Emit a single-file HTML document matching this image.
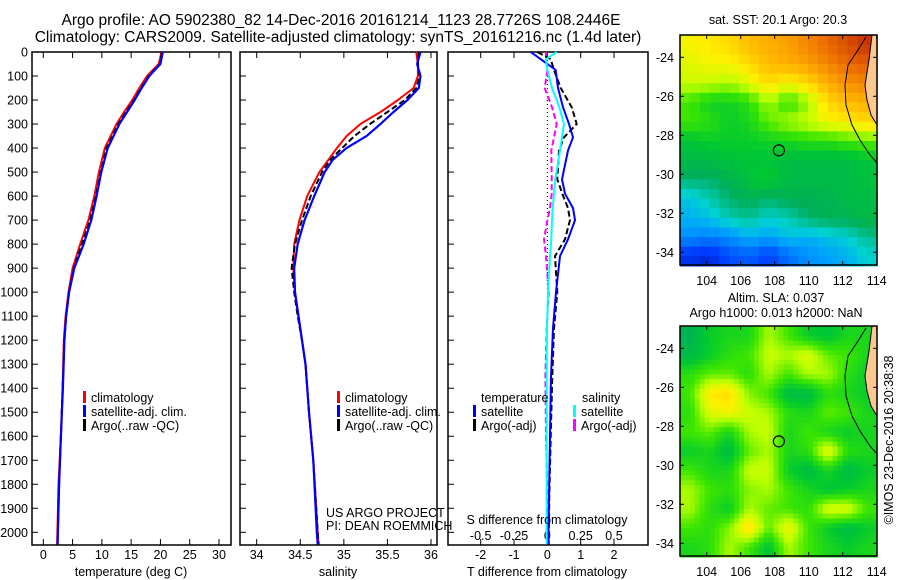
<!DOCTYPE html>
<html><head><meta charset="utf-8"><style>
body{margin:0;background:#fff}
svg{display:block;font-family:"Liberation Sans",sans-serif;font-size:12.5px}
</style></head><body>
<svg id="c" width="900" height="580" viewBox="0 0 900 580" xmlns="http://www.w3.org/2000/svg">
<rect width="900" height="580" fill="#fff"/>
<text x="341" y="25" text-anchor="middle" style="font-size:15.5px">Argo profile: AO 5902380_82 14-Dec-2016 20161214_1123 28.7726S 108.2446E</text>
<text x="338" y="42" text-anchor="middle" style="font-size:15.5px">Climatology: CARS2009. Satellite-adjusted climatology: synTS_20161216.nc (1.4d later)</text>
<g id="g"></g>
</svg>
<script>
// ---- data ----
const depthT=[0,50,100,150,200,250,300,400,500,600,700,800,900,1000,1100,1200,1400,1600,1800,2000,2050];
const tClim=[20.2,19.7,17.7,16.4,15.2,13.8,12.5,10.5,9.5,8.7,7.7,6.3,5.0,4.3,3.8,3.5,3.3,3.0,2.6,2.4,2.35];
const tSat=[20.4,20.0,18.1,16.8,15.6,14.3,13.0,11.0,9.9,9.1,8.2,6.9,5.3,4.4,3.9,3.6,3.35,3.0,2.7,2.5,2.45];
const tArgo=[20.3,19.9,18.0,16.7,15.5,14.1,12.8,10.8,9.8,9.0,8.0,6.6,5.2,4.4,3.9,3.6,3.3,3.0,2.7,2.5,2.45];
const depthS=[0,50,100,150,200,250,300,350,400,450,500,600,700,800,900,1000,1100,1200,1300,1500,1700,2000,2050];
const sClim=[35.83,35.85,35.85,35.80,35.62,35.42,35.19,35.03,34.92,34.82,34.72,34.58,34.49,34.43,34.42,34.44,34.48,34.52,34.56,34.60,34.65,34.70,34.71];
const sSat=[35.88,35.84,35.88,35.86,35.73,35.57,35.42,35.26,35.03,34.87,34.78,34.66,34.55,34.47,34.43,34.44,34.48,34.52,34.56,34.60,34.65,34.69,34.70];
const sArgo=[35.86,35.85,35.87,35.83,35.70,35.50,35.30,35.12,34.98,34.84,34.75,34.62,34.52,34.44,34.40,34.43,34.47,34.52,34.56,34.60,34.65,34.70,34.71];
const depthD=[0,30,75,150,230,300,355,410,530,590,650,700,780,850,1000,1150,1350,1600,1850,2050];
const tdSat=[-0.5,-0.2,0.25,0.32,0.47,0.65,0.77,0.62,0.44,0.53,0.77,0.83,0.62,0.38,0.26,0.17,0.11,0.08,0.05,0.03];
const tdArgo=[-0.3,0.1,0.2,0.4,0.73,0.88,0.5,0.35,0.3,0.45,0.62,0.68,0.53,0.23,0.3,0.2,0.15,0.1,0.06,0.04];
const sdSat=[0.07,-0.01,0.0,0.035,0.09,0.125,0.11,0.095,0.06,0.05,0.04,0.035,0.03,0.02,0.005,-0.003,-0.005,-0.005,-0.006,-0.006];
const sdArgo=[-0.01,-0.01,0.0,-0.02,0.035,0.07,0.05,0.03,0.033,0.033,0.02,0.0,-0.025,-0.01,0.01,-0.005,-0.015,-0.01,0.0,0.0];
const depthTicks=[0,100,200,300,400,500,600,700,800,900,1000,1100,1200,1300,1400,1500,1600,1700,1800,1900,2000];
const tTicks=[0,5,10,15,20,25,30];
const sTicks=[34,34.5,35,35.5,36];
const tdTicks=[-2,-1,0,1,2];
const sdTicks=[-0.5,-0.25,0,0.25,0.5];
const sdTickLabels=["-0.5","-0.25","0","0.25","0.5"];
const latTicks=[-24,-26,-28,-30,-32,-34];
const lonTicks=[104,106,108,110,112,114];
const argoLon=108.2446, argoLat=-28.7726;
const sstGrid=[
[0.62,0.64,0.66,0.70,0.72,0.74,0.78,0.82,0.86,0.90],
[0.60,0.62,0.62,0.66,0.70,0.72,0.74,0.78,0.82,0.84],
[0.58,0.58,0.56,0.60,0.66,0.62,0.66,0.72,0.76,0.78],
[0.50,0.45,0.45,0.48,0.56,0.48,0.55,0.66,0.70,0.72],
[0.50,0.48,0.44,0.46,0.52,0.56,0.58,0.62,0.64,0.66],
[0.42,0.44,0.44,0.44,0.45,0.46,0.48,0.48,0.50,0.52],
[0.40,0.40,0.42,0.42,0.42,0.40,0.40,0.40,0.40,0.42],
[0.36,0.36,0.38,0.42,0.44,0.40,0.40,0.40,0.40,0.42],
[0.28,0.32,0.36,0.38,0.36,0.38,0.38,0.38,0.40,0.40],
[0.26,0.28,0.32,0.34,0.30,0.32,0.36,0.38,0.38,0.40],
[0.22,0.20,0.22,0.26,0.24,0.28,0.26,0.28,0.30,0.34],
[0.10,0.08,0.14,0.16,0.12,0.18,0.22,0.24,0.26,0.30]];
const slaGrid=[
[0.38,0.44,0.46,0.46,0.56,0.50,0.44,0.42,0.46,0.46],
[0.40,0.44,0.48,0.50,0.58,0.56,0.60,0.52,0.50,0.46],
[0.48,0.52,0.52,0.48,0.56,0.50,0.56,0.56,0.48,0.44],
[0.50,0.64,0.66,0.54,0.50,0.40,0.40,0.48,0.46,0.44],
[0.48,0.60,0.62,0.58,0.56,0.48,0.46,0.52,0.50,0.46],
[0.50,0.52,0.46,0.56,0.58,0.46,0.50,0.46,0.44,0.46],
[0.44,0.46,0.40,0.52,0.56,0.46,0.48,0.62,0.48,0.46],
[0.50,0.46,0.46,0.58,0.58,0.44,0.40,0.46,0.40,0.44],
[0.56,0.50,0.48,0.54,0.56,0.50,0.46,0.42,0.44,0.46],
[0.56,0.48,0.44,0.56,0.52,0.50,0.48,0.60,0.60,0.50],
[0.50,0.48,0.54,0.66,0.52,0.62,0.50,0.44,0.40,0.44],
[0.46,0.48,0.56,0.50,0.42,0.56,0.50,0.46,0.44,0.46]];

// ---- helpers ----
const NS="http://www.w3.org/2000/svg";
const G=document.getElementById('g');
function mk(tag,attrs,parent){const e=document.createElementNS(NS,tag);for(const k in attrs)e.setAttribute(k,attrs[k]);(parent||G).appendChild(e);return e;}
function txt(x,y,s,anchor,parent){const e=mk('text',{x:x,y:y,'text-anchor':anchor||'start'},parent);e.textContent=s;return e;}
const PT=52, PB=545;
const yD=d=>PT+d*(480.3/2000);
function lin(d0,d1,r0,r1){return v=>r0+(v-d0)*(r1-r0)/(d1-d0);}
const xT=lin(0,30,43.3,219);
const xS=lin(34,36,256.7,431);
const xTD=lin(-2,2,480.7,614);
const xSD=lin(-0.5,0.5,480.7,614);

function frame(x0,x1,name){
  const r=mk('rect',{x:x0,y:PT,width:x1-x0,height:PB-PT,fill:'none',stroke:'#000','stroke-width':1.5});
  
  
  depthTicks.forEach(d=>{mk('line',{x1:x0,x2:x0+6,y1:yD(d),y2:yD(d),stroke:'#000'});});
}
function xticks(vals,labels,sx,y,name){
  vals.forEach((v,i)=>{
    mk('line',{x1:sx(v),x2:sx(v),y1:PT,y2:PT+6,stroke:'#000'});
    mk('line',{x1:sx(v),x2:sx(v),y1:PB,y2:PB-6,stroke:'#000'});
    const t=txt(sx(v),y,labels[i],'middle');
    
    
  });
}
function series(depths,vals,sx,color,w,dash,name){
  const pts=depths.map((d,i)=>sx(vals[i]).toFixed(1)+','+yD(d).toFixed(1)).join(' ');
  const a={points:pts,fill:'none',stroke:color,'stroke-width':w,'stroke-linejoin':'round'};
  if(dash)a['stroke-dasharray']=dash;
  const e=mk('polyline',a);
  
  
}
function legend(x,y,color,label,name){
  mk('rect',{x:x,y:y-11,width:3,height:12,fill:color});
  const t=txt(x+8,y,label);
  
  
}

depthTicks.forEach(d=>{const t=txt(28,yD(d)+4.5,String(d),'end');
  
  });

// panel 1 temperature
frame(32,231,'temperature-panel');
xticks(tTicks,tTicks.map(String),xT,559,'temperature');
series(depthT,tClim,xT,'#f00',2,null,'temperature-climatology-line');
series(depthT,tArgo,xT,'#000',2,'6,3','temperature-argo-line');
series(depthT,tSat,xT,'#00f',2.2,null,'temperature-satellite-line');
{const t=txt(131,576,'temperature (deg C)','middle');}
legend(83,402,'#f00','climatology','legend-climatology');
legend(83,416,'#00f','satellite-adj. clim.','legend-satellite');
legend(83,430,'#000','Argo(..raw -QC)','legend-argo');

// panel 2 salinity
frame(240,437,'salinity-panel');
xticks(sTicks,sTicks.map(String),xS,559,'salinity');
series(depthS,sClim,xS,'#f00',2,null,'salinity-climatology-line');
series(depthS,sArgo,xS,'#000',2,'6,3','salinity-argo-line');
series(depthS,sSat,xS,'#00f',2.2,null,'salinity-satellite-line');
{const t=txt(338,576,'salinity','middle');}
legend(337,402,'#f00','climatology','legend-climatology-2');
legend(337,416,'#00f','satellite-adj. clim.','legend-satellite-2');
legend(337,430,'#000','Argo(..raw -QC)','legend-argo-2');
{const t=txt(326,517,'US ARGO PROJECT');
 const u=txt(326,530,'PI: DEAN ROEMMICH');}

// panel 3 differences
frame(448,648,'difference-panel');
tdTicks.forEach(v=>{mk('line',{x1:xTD(v),x2:xTD(v),y1:PT,y2:PT+6,stroke:'#000'});});
sdTicks.forEach(v=>{mk('line',{x1:xSD(v),x2:xSD(v),y1:PB,y2:PB-6,stroke:'#000'});});
mk('line',{x1:xTD(0),x2:xTD(0),y1:PT,y2:yD(1000),stroke:'#000','stroke-dasharray':'1,3'});
tdTicks.forEach(v=>{const t=txt(xTD(v),559,String(v),'middle');});
sdTicks.forEach((v,i)=>{const t=txt(xSD(v),540,sdTickLabels[i],'middle');});
series(depthD,sdArgo,xSD,'#f0f',2,'6,3','s-diff-argo-line');
series(depthD,tdArgo,xTD,'#000',2,'6,3','t-diff-argo-line');
series(depthD,tdSat,xTD,'#00f',2,null,'t-diff-satellite-line');
series(depthD,sdSat,xSD,'#0ff',2,null,'s-diff-satellite-line');
{const t=txt(547,524,'S difference from climatology','middle');
 const u=txt(547,576,'T difference from climatology','middle');}
{const t=txt(481,402,'temperature');
 const u=txt(582,402,'salinity');}
legend(473,416,'#00f','satellite','legend-t-satellite');
legend(473,430,'#000','Argo(-adj)','legend-t-argo');
legend(573,416,'#0ff','satellite','legend-s-satellite');
legend(573,430,'#f0f','Argo(-adj)','legend-s-argo');

// ---- maps ----
const cstops=[[0,[0,0,140]],[0.12,[0,60,255]],[0.24,[0,160,255]],[0.3,[0,210,210]],[0.37,[0,175,90]],[0.43,[0,200,50]],[0.5,[60,230,0]],[0.57,[190,255,0]],[0.63,[255,240,0]],[0.71,[255,180,0]],[0.8,[240,120,0]],[0.9,[200,50,0]],[1,[150,0,0]]];
function cmap(v){for(let i=1;i<cstops.length;i++){if(v<=cstops[i][0]){const a=cstops[i-1],b=cstops[i];const f=(v-a[0])/(b[0]-a[0]);const c=a[1].map((x,j)=>Math.round(x+(b[1][j]-x)*f));return 'rgb('+c+')';}}return 'rgb(150,0,0)';}
function sample(grid,fr,fc){
  const rows=grid.length, cols=grid[0].length;
  const r=Math.min(Math.max(fr-0.5,0),rows-1), c=Math.min(Math.max(fc-0.5,0),cols-1);
  const r0=Math.floor(r), c0=Math.floor(c), r1=Math.min(r0+1,rows-1), c1=Math.min(c0+1,cols-1);
  const a=r-r0, b=c-c0;
  return grid[r0][c0]*(1-a)*(1-b)+grid[r0][c1]*(1-a)*b+grid[r1][c0]*a*(1-b)+grid[r1][c1]*a*b;
}
function drawMap(top,grid,name,sub){
  const L=680,R=877,B=top+230;
  const xL=lin(104,114,706.7,876.7), yL=lin(-24,-34,top+22.3,top+217.3);
  const g=mk('g',{});
  
  
  const rows=grid.length, cols=grid[0].length;
  const lon0=102.43,lon1=114.02,lat0=-22.87,lat1=-34.7;
  const nr=rows*sub, nc=cols*sub;
  const cw=(lon1-lon0)/nc, ch=(lat1-lat0)/nr;
  for(let r=0;r<nr;r++)for(let c=0;c<nc;c++){
    const v=sample(grid,(r+0.5)/sub,(c+0.5)/sub);
    const x=xL(lon0+c*cw), y=yL(lat0+r*ch);
    const e=mk('rect',{x:x.toFixed(1),y:y.toFixed(1),width:(xL(lon0+(c+1)*cw)-x+0.6).toFixed(1),height:(yL(lat0+(r+1)*ch)-y+0.6).toFixed(1),fill:cmap(v)},g);
    
    
  }
  const land=[[0,0],[15,0],[15,90],[9,80],[5,65],[3,50],[7,25],[10,0]];
  mk('polygon',{points:land.map(p=>(862+p[0])+','+(top+p[1])).join(' '),fill:'#fcc890',stroke:'#000','stroke-width':1},g);
  const cont=[[866,2],[858,15],[848,30],[845,50],[846,70],[852,90],[860,105],[870,120],[877,128]];
  mk('polyline',{points:cont.map(p=>p[0]+','+(top+p[1])).join(' '),fill:'none',stroke:'#000','stroke-width':1},g);
  mk('rect',{x:L,y:top,width:R-L,height:B-top,fill:'none',stroke:'#000','stroke-width':1.5},g);
  latTicks.forEach(v=>{mk('line',{x1:L,x2:L+4,y1:yL(v),y2:yL(v),stroke:'#000'},g);mk('line',{x1:R,x2:R-4,y1:yL(v),y2:yL(v),stroke:'#000'},g);
    const t=txt(674,yL(v)+4.5,String(v),'end',g);});
  lonTicks.forEach(v=>{mk('line',{x1:xL(v),x2:xL(v),y1:top,y2:top+4,stroke:'#000'},g);mk('line',{x1:xL(v),x2:xL(v),y1:B,y2:B-4,stroke:'#000'},g);
    const t=txt(xL(v),B+20,String(v),'middle',g);});
  const c=mk('circle',{cx:xL(argoLon),cy:yL(argoLat),r:5.5,fill:'none',stroke:'#000','stroke-width':1.2},g);
  
  
}
drawMap(35,sstGrid,'sst-map',2);
drawMap(326,slaGrid,'sla-map',4);
{const t=txt(778,24,'sat. SST: 20.1 Argo: 20.3','middle');
 const u=txt(776,302,'Altim. SLA: 0.037','middle');
 const w=txt(776,317,'Argo h1000: 0.013 h2000: NaN','middle');
 const z=txt(0,0,'©IMOS 23-Dec-2016 20:38:38','middle');z.setAttribute('transform','translate(893,440) rotate(-90)');}
</script>
</body></html>
